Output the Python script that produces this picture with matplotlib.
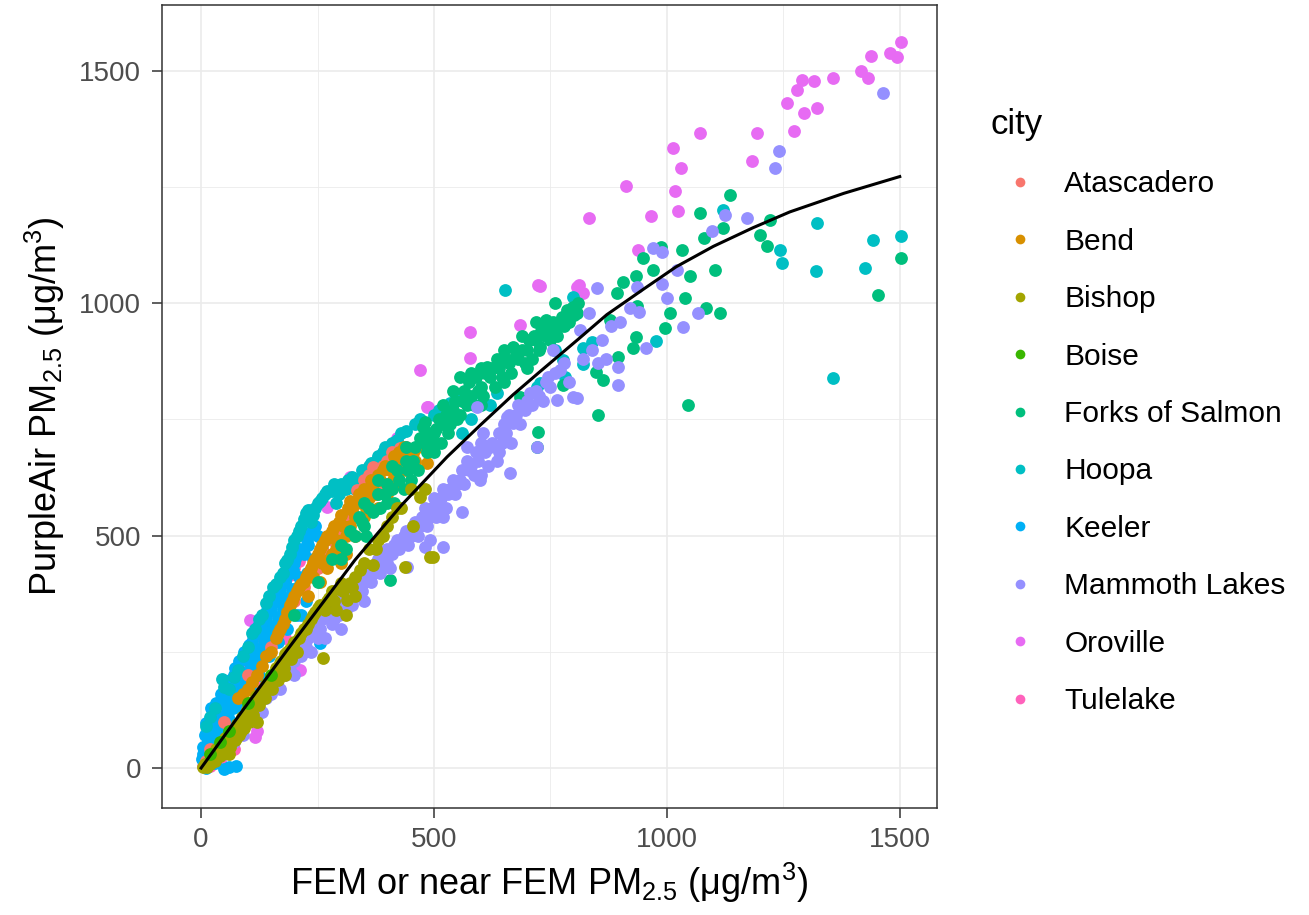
import matplotlib
matplotlib.use("Agg")
import matplotlib.pyplot as plt
from matplotlib.lines import Line2D

plt.rcParams['font.family'] = ['Liberation Sans', 'DejaVu Sans']
plt.rcParams['mathtext.fontset'] = 'custom'
plt.rcParams['mathtext.rm'] = 'Liberation Sans'
plt.rcParams['mathtext.it'] = 'Liberation Sans:italic'
plt.rcParams['mathtext.bf'] = 'Liberation Sans:bold'

cities = ["Atascadero", "Bend", "Bishop", "Boise", "Forks of Salmon", "Hoopa",
          "Keeler", "Mammoth Lakes", "Oroville", "Tulelake"]
colors = ["#F8766D", "#D89000", "#A3A500", "#39B600", "#00BF7D", "#00BFC4",
          "#00B0F6", "#9590FF", "#E76BF3", "#FF62BC"]

ATASCADERO = [(10, 15), (20, 40), (50, 100), (100, 200), (150, 260), (200, 360), (220, 390),
              (240, 420), (250, 430), (260, 470), (280, 490), (290, 500), (300, 520), (313, 540),
              (320, 560), (335, 598), (348, 602), (350, 620), (360, 630), (369, 648), (380, 600),
              (390, 650), (400, 660), (410, 680), (427, 688), (431, 688), (440, 690)]

BEND = [(80, 150), (90, 160), (100, 170), (110, 185), (120, 200), (130, 220), (140, 240),
        (150, 250), (160, 280), (165, 290), (170, 300), (175, 310), (180, 320), (185, 335),
        (190, 350), (195, 360), (200, 370), (205, 380), (210, 390), (215, 395), (220, 400),
        (225, 410), (230, 420), (230, 370), (235, 430), (240, 440), (240, 410), (245, 450),
        (250, 460), (255, 400), (255, 470), (260, 480), (260, 440), (265, 490), (270, 500),
        (270, 430), (275, 450), (280, 510), (280, 460), (285, 520), (290, 470), (290, 490),
        (295, 530), (300, 545), (300, 440), (305, 520), (310, 500), (310, 460), (315, 560),
        (320, 575), (320, 520), (325, 555), (330, 540), (330, 500), (335, 570), (340, 590),
        (345, 580), (350, 600), (350, 540), (355, 560), (360, 600), (360, 580), (365, 620),
        (370, 610), (375, 590), (380, 630), (380, 560), (385, 620), (390, 640), (395, 650),
        (400, 610), (400, 590), (405, 640), (410, 650), (412, 619), (415, 670), (420, 660),
        (420, 610), (425, 680), (430, 640), (435, 690), (440, 670), (440, 640), (445, 680),
        (455, 677), (460, 660), (465, 690), (476, 699), (485, 656)]

BISHOP = [(5, 2), (8, 8), (10, 5), (12, 3), (15, 10), (18, 15), (20, 8), (22, 25), (25, 20),
          (28, 28), (30, 15), (32, 40), (35, 30), (38, 45), (40, 25), (42, 35), (45, 40),
          (48, 55), (50, 50), (52, 65), (55, 35), (58, 70), (60, 60), (60, 30), (62, 45),
          (65, 55), (68, 80), (70, 75), (72, 60), (75, 65), (78, 95), (80, 90), (82, 70),
          (85, 80), (88, 110), (90, 105), (92, 85), (95, 95), (98, 125), (100, 120), (102, 100),
          (108, 140), (110, 130), (112, 115), (118, 155), (120, 150), (120, 100), (125, 135),
          (130, 165), (132, 170), (138, 150), (140, 180), (145, 185), (150, 195), (152, 170),
          (158, 205), (160, 215), (165, 190), (170, 225), (172, 230), (178, 215), (180, 245),
          (180, 200), (185, 250), (190, 255), (192, 235), (198, 265), (200, 270), (205, 250),
          (210, 280), (215, 290), (220, 300), (225, 300), (230, 310), (235, 320), (240, 330),
          (245, 335), (250, 345), (255, 350), (262, 237), (265, 340), (270, 360), (275, 365),
          (280, 380), (285, 360), (290, 340), (295, 385), (300, 398), (305, 380), (310, 330),
          (313, 361), (320, 398), (324, 389), (330, 410), (330, 370), (341, 426), (350, 440),
          (360, 470), (369, 437), (375, 470), (380, 490), (390, 500), (400, 520), (410, 540),
          (420, 560), (430, 560), (438, 432), (450, 600), (455, 520), (470, 583), (480, 600),
          (491, 454), (498, 454)]

BOISE = [(20, 30), (40, 55), (60, 80), (100, 140), (150, 200)]

FORKS = [(200, 330), (250, 400), (280, 450), (300, 480), (300, 450), (310, 470), (320, 510),
         (330, 500), (340, 540), (345, 530), (350, 520), (350, 570), (355, 500), (360, 560),
         (370, 550), (380, 590), (380, 620), (385, 560), (395, 590), (400, 610), (400, 570),
         (406, 404), (410, 600), (410, 650), (415, 570), (420, 640), (425, 620), (435, 600),
         (440, 660), (440, 690), (445, 640), (450, 620), (455, 660), (460, 690), (465, 640),
         (470, 710), (476, 733), (480, 700), (480, 745), (485, 680), (490, 720), (495, 700),
         (500, 720), (500, 680), (505, 730), (510, 750), (515, 700), (520, 740), (520, 780),
         (525, 760), (530, 720), (535, 740), (540, 770), (540, 810), (545, 790), (550, 750),
         (555, 760), (556, 841), (560, 790), (565, 810), (570, 780), (575, 830), (580, 800),
         (580, 850), (585, 780), (590, 840), (595, 810), (600, 820), (600, 780), (600, 860),
         (605, 800), (610, 850), (614, 863), (620, 840), (625, 860), (630, 820), (635, 880),
         (640, 860), (645, 840), (650, 830), (650, 900), (655, 880), (660, 870), (665, 850),
         (670, 906), (675, 890), (680, 880), (685, 798), (690, 900), (690, 930), (695, 870),
         (700, 900), (700, 860), (705, 920), (710, 880), (715, 930), (720, 920), (720, 960),
         (721, 690), (723, 723), (725, 900), (727, 905), (730, 940), (734, 949), (740, 930),
         (740, 964), (745, 950), (750, 920), (755, 960), (760, 940), (760, 1000), (765, 930),
         (770, 950), (775, 970), (777, 824), (780, 950), (785, 985), (785, 964), (790, 960),
         (796, 989), (798, 992), (800, 975), (807, 979), (810, 1000), (848, 852), (852, 759),
         (863, 835), (878, 964), (893, 1022), (895, 884), (906, 1045), (927, 903), (934, 927),
         (934, 1058), (936, 994), (949, 1097), (970, 1071), (987, 1121), (996, 946),
         (1006, 979), (1032, 1114), (1039, 1011), (1045, 781), (1049, 1058), (1071, 1194),
         (1079, 1140), (1084, 989), (1103, 1071), (1114, 979), (1120, 1161), (1135, 1232),
         (1200, 1146), (1215, 1123), (1221, 1179), (1453, 1017), (1502, 1097)]

HOOPA = [(10, 90), (20, 110), (30, 130), (45, 192), (50, 175), (60, 170), (70, 195), (80, 210),
         (90, 240), (100, 260), (110, 290), (115, 300), (125, 320), (130, 330), (140, 355),
         (145, 370), (155, 390), (160, 395), (170, 410), (175, 420), (180, 440), (185, 447),
         (190, 460), (195, 475), (200, 490), (205, 500), (210, 510), (215, 520), (220, 535),
         (225, 548), (230, 555), (235, 530), (240, 545), (245, 560), (250, 570), (255, 575),
         (260, 580), (265, 590), (270, 595), (280, 595), (285, 610), (290, 570), (295, 590),
         (300, 610), (310, 600), (315, 620), (325, 625), (330, 600), (335, 610), (345, 640),
         (350, 630), (360, 650), (365, 655), (375, 660), (380, 670), (390, 680), (395, 690),
         (410, 700), (420, 705), (430, 720), (440, 725), (460, 740), (470, 750), (500, 760),
         (510, 770), (534, 785), (540, 785), (550, 800), (560, 720), (580, 750), (600, 805),
         (620, 780), (635, 807), (652, 1028), (700, 780), (721, 820), (727, 828), (760, 900),
         (777, 877), (781, 841), (798, 1013), (820, 869), (820, 903), (839, 916), (976, 918),
         (1120, 1200), (1242, 1114), (1247, 1086), (1320, 1069), (1322, 1172), (1356, 839),
         (1425, 1075), (1442, 1135), (1502, 1144)]

KEELER = [(2, 20), (5, 45), (5, 30), (8, 70), (10, 97), (10, 0), (12, 85), (15, 60), (18, 40),
          (20, 100), (22, 130), (25, 80), (28, 60), (30, 120), (30, 10), (33, 140), (35, 95),
          (38, 75), (40, 140), (42, 160), (45, 110), (45, 70), (48, 90), (50, 160), (50, -2),
          (52, 175), (55, 130), (58, 110), (60, 180), (60, 2), (63, 190), (65, 150), (65, 100),
          (68, 130), (70, 200), (72, 215), (75, 170), (75, 5), (78, 150), (80, 215), (82, 230),
          (85, 190), (85, 130), (88, 170), (90, 235), (92, 250), (95, 205), (98, 180),
          (100, 250), (102, 265), (105, 225), (105, 170), (108, 200), (110, 270), (110, 140),
          (112, 285), (115, 240), (118, 220), (120, 290), (122, 305), (125, 255), (125, 200),
          (128, 240), (130, 300), (132, 320), (135, 275), (138, 260), (140, 320), (142, 340),
          (145, 290), (145, 240), (148, 280), (150, 340), (152, 355), (155, 305), (158, 300),
          (160, 360), (162, 375), (165, 325), (165, 270), (168, 320), (170, 380), (172, 395),
          (175, 345), (178, 340), (180, 400), (182, 410), (185, 365), (185, 300), (188, 355),
          (190, 420), (192, 430), (195, 385), (197, 426), (198, 370), (200, 440), (202, 450),
          (205, 330), (208, 390), (210, 410), (212, 470), (215, 330), (218, 400), (220, 460),
          (222, 500), (225, 360), (227, 490), (228, 420), (230, 480), (232, 505), (238, 430),
          (240, 450), (240, 295), (245, 520), (250, 500), (250, 455), (255, 269), (260, 470)]

MAMMOTH = [(30, 20), (50, 30), (60, 50), (70, 55), (80, 80), (90, 70), (100, 100), (110, 110),
           (120, 130), (130, 120), (140, 150), (150, 160), (160, 180), (170, 170), (180, 200),
           (190, 210), (200, 230), (200, 200), (210, 260), (215, 240), (220, 250), (225, 260),
           (230, 280), (235, 250), (240, 300), (245, 310), (250, 290), (250, 280), (255, 300),
           (260, 320), (265, 280), (270, 330), (275, 340), (280, 310), (285, 320), (290, 350),
           (295, 330), (300, 370), (300, 300), (305, 390), (310, 340), (315, 360), (320, 390),
           (325, 350), (330, 380), (335, 400), (340, 410), (345, 380), (350, 400), (350, 360),
           (355, 420), (360, 430), (365, 400), (370, 420), (375, 440), (380, 450), (385, 420),
           (390, 440), (395, 460), (400, 470), (400, 440), (405, 430), (410, 460), (415, 480),
           (420, 490), (425, 470), (430, 480), (435, 500), (440, 510), (442, 432), (445, 480),
           (450, 500), (455, 520), (460, 530), (465, 500), (470, 520), (475, 540), (480, 560),
           (480, 475), (485, 520), (490, 540), (491, 490), (495, 560), (500, 580), (505, 540),
           (510, 560), (515, 580), (519, 475), (520, 600), (520, 540), (525, 560), (530, 590),
           (535, 600), (540, 620), (545, 590), (550, 610), (555, 620), (560, 640), (560, 551),
           (565, 610), (570, 660), (571, 690), (575, 640), (580, 650), (585, 630), (590, 680),
           (592, 777), (595, 660), (599, 620), (600, 700), (600, 630), (605, 720), (610, 680),
           (615, 650), (620, 690), (625, 700), (635, 660), (640, 720), (640, 680), (645, 700),
           (650, 740), (655, 720), (657, 755), (660, 760), (663, 635), (665, 700), (670, 742),
           (675, 760), (680, 780), (685, 740), (695, 770), (700, 790), (706, 807), (710, 780),
           (720, 810), (721, 690), (725, 800), (735, 790), (740, 830), (745, 840), (750, 820),
           (755, 899), (760, 850), (764, 792), (770, 856), (780, 870), (790, 830), (798, 798),
           (807, 796), (813, 942), (820, 880), (833, 979), (840, 900), (850, 1032), (852, 871),
           (860, 920), (870, 880), (880, 950), (895, 863), (895, 824), (900, 960), (920, 990),
           (936, 1035), (940, 980), (955, 903), (970, 1118), (989, 1110), (990, 1040),
           (1000, 1010), (1021, 1071), (1034, 949), (1067, 979), (1097, 1155), (1125, 1190),
           (1172, 1183), (1232, 1291), (1240, 1327), (1464, 1452)]

OROVILLE = [(10, 5), (30, 40), (60, 100), (105, 318), (116, 67), (120, 80), (127, 303),
            (155, 376), (155, 379), (212, 211), (234, 555), (270, 561), (320, 626), (391, 669),
            (421, 710), (470, 856), (485, 777), (487, 777), (573, 839), (577, 882), (577, 938),
            (685, 953), (723, 1039), (727, 1037), (807, 1035), (811, 1039), (820, 1022),
            (833, 1183), (912, 1252), (938, 1114), (966, 1187), (1013, 1334), (1017, 1241),
            (1024, 1198), (1030, 1291), (1071, 1366), (1182, 1306), (1193, 1366), (1258, 1430),
            (1273, 1370), (1279, 1458), (1290, 1480), (1294, 1409), (1315, 1478), (1322, 1420),
            (1356, 1484), (1416, 1499), (1431, 1484), (1438, 1531), (1479, 1538), (1494, 1529),
            (1502, 1562)]

TULELAKE = [(3, 5), (5, 20), (7, 28), (8, 35), (12, 50), (14, 55), (16, 60), (20, 75), (20, 5),
            (22, 85), (25, 90), (28, 105), (30, 100), (35, 110), (37, 120), (40, 125), (40, 15),
            (45, 140), (48, 150), (50, 150), (55, 160), (58, 175), (60, 170), (65, 180), (70, 190),
            (70, 40), (75, 205), (80, 210), (85, 225), (90, 235), (95, 245), (100, 255), (105, 265),
            (110, 270), (115, 285), (120, 290), (120, 180), (125, 300), (130, 310), (135, 320),
            (140, 330), (145, 340), (150, 350), (155, 360), (160, 370), (165, 375), (170, 390),
            (180, 400), (180, 280), (190, 415), (200, 430), (210, 445), (220, 460)]

FIT_X = [0, 90, 185, 330, 430, 528, 600, 670, 727, 813, 871, 950, 1020, 1100, 1185, 1264,
         1380, 1500]
FIT_Y = [0, 125, 254, 447, 565, 669, 738, 803, 852, 925, 975, 1030, 1078, 1122, 1162, 1196,
         1236, 1272]

data = {"Atascadero": ATASCADERO, "Bend": BEND, "Bishop": BISHOP, "Boise": BOISE,
        "Forks of Salmon": FORKS, "Hoopa": HOOPA, "Keeler": KEELER,
        "Mammoth Lakes": MAMMOTH, "Oroville": OROVILLE, "Tulelake": TULELAKE}
draw_order = ["Tulelake", "Oroville", "Keeler", "Hoopa", "Atascadero", "Bend",
              "Forks of Salmon", "Mammoth Lakes", "Bishop", "Boise"]
color_of = dict(zip(cities, colors))

W, H = 1309, 915
fig = plt.figure(figsize=(W / 100, H / 100), dpi=100)
ax = fig.add_axes([162 / W, (H - 808) / H, (937 - 162) / W, (808 - 5) / H])

for v in [250, 750, 1250]:
    ax.axvline(v, color="#EBEBEB", lw=0.6, zorder=0)
    ax.axhline(v, color="#EBEBEB", lw=0.6, zorder=0)
for v in [0, 500, 1000, 1500]:
    ax.axvline(v, color="#EBEBEB", lw=1.2, zorder=0)
    ax.axhline(v, color="#EBEBEB", lw=1.2, zorder=0)

for c in draw_order:
    pts = data[c]
    xs = [p[0] for p in pts]
    ys = [p[1] for p in pts]
    ax.scatter(xs, ys, s=85, color=color_of[c], linewidths=0, zorder=2)

ax.plot(FIT_X, FIT_Y, color="black", lw=2.2, zorder=3, solid_joinstyle="round")

ax.set_xlim(-84, 1580)
ax.set_ylim(-86, 1641)
ax.set_xticks([0, 500, 1000, 1500])
ax.set_yticks([0, 500, 1000, 1500])
ax.tick_params(axis="both", direction="out", length=7, width=1.1, color="#333333",
               labelsize=20, labelcolor="#4D4D4D")
ax.tick_params(axis="y", pad=8)
ax.tick_params(axis="x", pad=7)
for sp in ax.spines.values():
    sp.set_color("#333333")
    sp.set_linewidth(1.1)

ax.set_xlabel("FEM or near FEM PM$_{2.5}$ (μg/m$^{3}$)", fontsize=26, labelpad=5)
ax.set_ylabel("PurpleAir PM$_{2.5}$ (μg/m$^{3}$)", fontsize=26, labelpad=9)

handles = [Line2D([0], [0], marker="o", linestyle="none", markersize=7,
                  markerfacecolor=color_of[c], markeredgewidth=0) for c in cities]
leg = ax.legend(handles, cities, title="city", loc="upper left",
                bbox_to_anchor=(991 / W, 1 - 108 / H), bbox_transform=fig.transFigure,
                frameon=False, fontsize=21.5, title_fontsize=25, alignment="left",
                handlelength=1.95, handletextpad=0.5, labelspacing=0.985,
                borderpad=0, borderaxespad=0)

fig.savefig("out.png", dpi=100)
